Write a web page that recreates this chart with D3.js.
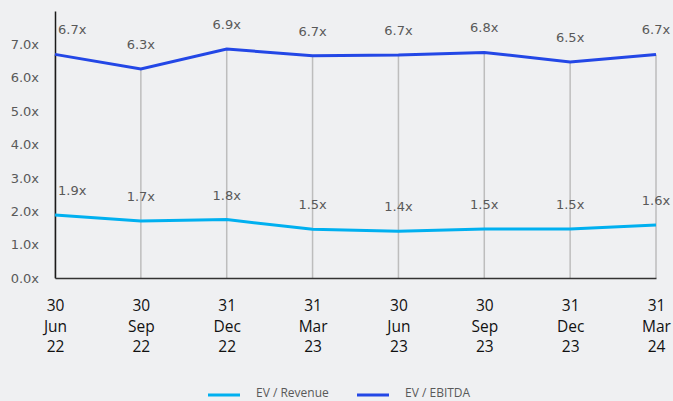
<!DOCTYPE html>
<html>
<head>
<meta charset="utf-8">
<script src="https://cdn.jsdelivr.net/npm/d3@7"></script>
<style>
  body { margin: 0; background: #eff0f2; }
  svg { display: block; }
</style>
</head>
<body>
<svg id="chart" width="673" height="401"></svg>
<script>
// data
var dates    = ["30 Jun 22", "30 Sep 22", "31 Dec 22", "31 Mar 23", "30 Jun 23", "30 Sep 23", "31 Dec 23", "31 Mar 24"]
var revenue  = [1.89, 1.71, 1.75, 1.46, 1.40, 1.47, 1.47, 1.59]
var ebitda   = [6.70, 6.26, 6.86, 6.66, 6.68, 6.76, 6.47, 6.70]
var yTicks   = [0, 1, 2, 3, 4, 5, 6, 7]
var seriesNames = ["EV / Revenue", "EV / EBITDA"]

var svg = d3.select("#chart")
var colors = d3.scaleOrdinal().domain(seriesNames).range(["#00b0f0", "#2347e6"])
var fmt = d3.format(".1f")

var x = d3.scalePoint()
	.domain(dates)
	.range([55, 656])

var y = d3.scaleLinear()
	.domain([0, 8])
	.range([278, 11])

// drop lines from the EBITDA points down to the axis
svg.append("g").selectAll("line")
	.data(dates)
	.enter().append("line")
	.attr("x1", d => x(d)).attr("x2", d => x(d))
	.attr("y1", (d, i) => y(ebitda[i]))
	.attr("y2", y(0))
	.attr("stroke", "#bdbdbd")
	.attr("stroke-width", 1.5)

// y axis
var yAxis = svg.append("g")
	.attr("transform", "translate(55,0)")
	.call(d3.axisLeft(y).tickValues(yTicks).tickSize(0).tickSizeOuter(0).tickPadding(16)
		.tickFormat(d => fmt(d) + "x"))
yAxis.select(".domain").attr("stroke", "#1a1a1a").attr("stroke-width", 1.5)
yAxis.selectAll("text")
	.attr("fill", "#595959")
	.style("font", "13px 'DejaVu Sans'")

// x axis
var xAxis = svg.append("g")
	.attr("transform", `translate(0,${y(0)})`)
	.call(d3.axisBottom(x).tickSize(0).tickSizeOuter(0).tickPadding(0))
xAxis.select(".domain").attr("stroke", "#333").attr("stroke-width", 1.5)
xAxis.selectAll("text")
	.attr("fill", "#111")
	.attr("y", 0)
	.attr("dy", null)
	.style("font", "15.5px 'Open Sans'")
	.text(null)
	.each(function(d) {
		var parts = d.split(" ")
		d3.select(this).selectAll("tspan")
			.data(parts)
			.enter().append("tspan")
			.attr("x", 0)
			.attr("y", (p, i) => 33 + i * 20.5)
			.text(p => p)
	})

// lines
var line = d3.line()
	.x((d, i) => x(dates[i]))
	.y(d => y(d))

var series = [
	{ name: seriesNames[0], values: revenue },
	{ name: seriesNames[1], values: ebitda }
]

svg.append("g").selectAll("path")
	.data(series)
	.enter().append("path")
	.attr("d", d => line(d.values))
	.attr("fill", "none")
	.attr("stroke", d => colors(d.name))
	.attr("stroke-width", 3)

// data labels
series.forEach(function(s) {
	svg.append("g").selectAll("text")
		.data(s.values)
		.enter().append("text")
		.attr("x", (d, i) => i == 0 ? x(dates[i]) + 3 : x(dates[i]))
		.attr("y", d => y(d) - 20)
		.attr("text-anchor", (d, i) => i == 0 ? "start" : "middle")
		.attr("fill", "#595959")
		.style("font", "13px 'DejaVu Sans'")
		.text(d => fmt(d) + "x")
})

// legend
var legend = svg.append("g").selectAll("g")
	.data(seriesNames)
	.enter().append("g")
	.attr("transform", (d, i) => `translate(${208 + i * 149},395)`)

legend.append("line")
	.attr("x1", 0).attr("x2", 32)
	.attr("stroke", d => colors(d))
	.attr("stroke-width", 3)

legend.append("text")
	.attr("x", 48)
	.attr("y", 2)
	.attr("fill", "#595959")
	.style("font", "12px 'Open Sans'")
	.text(d => d)
</script>
</body>
</html>
